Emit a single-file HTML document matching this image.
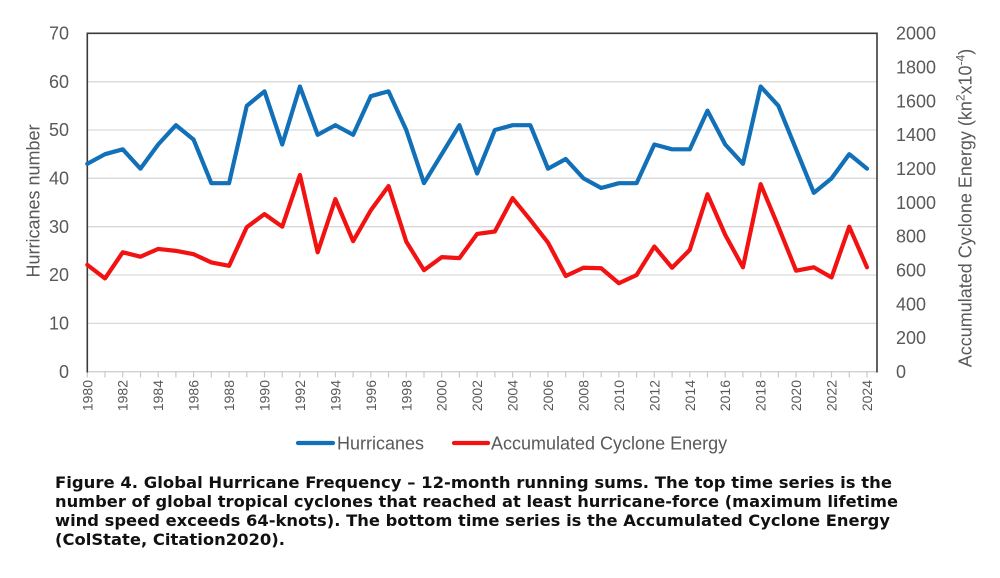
<!DOCTYPE html>
<html>
<head>
<meta charset="utf-8">
<style>
  html, body { margin:0; padding:0; background:#fff; }
  body { width:1000px; height:578px; overflow:hidden; }
  svg { display:block; }
  .tk { font-family:"Liberation Sans", sans-serif; font-size:18px; fill:#595959; }
  .xl { font-family:"Liberation Sans", sans-serif; font-size:14px; fill:#595959; }
  .cap { font-family:"DejaVu Sans", Verdana, sans-serif; font-weight:bold; font-size:16px; fill:#111; }
</style>
</head>
<body>
<svg width="1000" height="578" viewBox="0 0 1000 578" xmlns="http://www.w3.org/2000/svg">
  <rect width="1000" height="578" fill="#fff"/>

  <!-- gridlines -->
  <g stroke="#d9d9d9" stroke-width="1.3">
    <line x1="87.3" y1="323.4" x2="877" y2="323.4"/>
    <line x1="87.3" y1="275.0" x2="877" y2="275.0"/>
    <line x1="87.3" y1="226.7" x2="877" y2="226.7"/>
    <line x1="87.3" y1="178.3" x2="877" y2="178.3"/>
    <line x1="87.3" y1="130.0" x2="877" y2="130.0"/>
    <line x1="87.3" y1="81.7" x2="877" y2="81.7"/>
  </g>

  <!-- bottom axis + ticks -->
  <line x1="87.3" y1="371.7" x2="877" y2="371.7" stroke="#d0d0d0" stroke-width="1.3"/>
  <g stroke="#c8c8c8" stroke-width="1.2">
    <line x1="87.3" y1="371.7" x2="87.3" y2="377.5"/>
    <line x1="105.0" y1="371.7" x2="105.0" y2="377.5"/>
    <line x1="122.7" y1="371.7" x2="122.7" y2="377.5"/>
    <line x1="140.5" y1="371.7" x2="140.5" y2="377.5"/>
    <line x1="158.2" y1="371.7" x2="158.2" y2="377.5"/>
    <line x1="175.9" y1="371.7" x2="175.9" y2="377.5"/>
    <line x1="193.6" y1="371.7" x2="193.6" y2="377.5"/>
    <line x1="211.3" y1="371.7" x2="211.3" y2="377.5"/>
    <line x1="229.1" y1="371.7" x2="229.1" y2="377.5"/>
    <line x1="246.8" y1="371.7" x2="246.8" y2="377.5"/>
    <line x1="264.5" y1="371.7" x2="264.5" y2="377.5"/>
    <line x1="282.2" y1="371.7" x2="282.2" y2="377.5"/>
    <line x1="299.9" y1="371.7" x2="299.9" y2="377.5"/>
    <line x1="317.7" y1="371.7" x2="317.7" y2="377.5"/>
    <line x1="335.4" y1="371.7" x2="335.4" y2="377.5"/>
    <line x1="353.1" y1="371.7" x2="353.1" y2="377.5"/>
    <line x1="370.8" y1="371.7" x2="370.8" y2="377.5"/>
    <line x1="388.5" y1="371.7" x2="388.5" y2="377.5"/>
    <line x1="406.3" y1="371.7" x2="406.3" y2="377.5"/>
    <line x1="424.0" y1="371.7" x2="424.0" y2="377.5"/>
    <line x1="441.7" y1="371.7" x2="441.7" y2="377.5"/>
    <line x1="459.4" y1="371.7" x2="459.4" y2="377.5"/>
    <line x1="477.1" y1="371.7" x2="477.1" y2="377.5"/>
    <line x1="494.9" y1="371.7" x2="494.9" y2="377.5"/>
    <line x1="512.6" y1="371.7" x2="512.6" y2="377.5"/>
    <line x1="530.3" y1="371.7" x2="530.3" y2="377.5"/>
    <line x1="548.0" y1="371.7" x2="548.0" y2="377.5"/>
    <line x1="565.7" y1="371.7" x2="565.7" y2="377.5"/>
    <line x1="583.5" y1="371.7" x2="583.5" y2="377.5"/>
    <line x1="601.2" y1="371.7" x2="601.2" y2="377.5"/>
    <line x1="618.9" y1="371.7" x2="618.9" y2="377.5"/>
    <line x1="636.6" y1="371.7" x2="636.6" y2="377.5"/>
    <line x1="654.3" y1="371.7" x2="654.3" y2="377.5"/>
    <line x1="672.1" y1="371.7" x2="672.1" y2="377.5"/>
    <line x1="689.8" y1="371.7" x2="689.8" y2="377.5"/>
    <line x1="707.5" y1="371.7" x2="707.5" y2="377.5"/>
    <line x1="725.2" y1="371.7" x2="725.2" y2="377.5"/>
    <line x1="742.9" y1="371.7" x2="742.9" y2="377.5"/>
    <line x1="760.7" y1="371.7" x2="760.7" y2="377.5"/>
    <line x1="778.4" y1="371.7" x2="778.4" y2="377.5"/>
    <line x1="796.1" y1="371.7" x2="796.1" y2="377.5"/>
    <line x1="813.8" y1="371.7" x2="813.8" y2="377.5"/>
    <line x1="831.5" y1="371.7" x2="831.5" y2="377.5"/>
    <line x1="849.3" y1="371.7" x2="849.3" y2="377.5"/>
    <line x1="867.0" y1="371.7" x2="867.0" y2="377.5"/>
  </g>

  <!-- plot border (top, left, right) -->
  <path d="M87.3,372.5 L87.3,33.3 L877,33.3 L877,372.5" fill="none" stroke="#3a3a3a" stroke-width="1.6"/>

  <!-- series -->
  <g transform="translate(87.3,371.7) scale(17.72,-4.834)">
    <polyline fill="none" stroke="#1170b8" stroke-width="4.2" stroke-linejoin="round" stroke-linecap="round" vector-effect="non-scaling-stroke"
      points="0,43 1,45 2,46 3,42 4,47 5,51 6,48 7,39 8,39 9,55 10,58 11,47 12,59 13,49 14,51 15,49 16,57 17,58 18,50 19,39 20,45 21,51 22,41 23,50 24,51 25,51 26,42 27,44 28,40 29,38 30,39 31,39 32,47 33,46 34,46 35,54 36,47 37,43 38,59 39,55 40,46 41,37 42,40 43,45 44,42"/>
    <polyline fill="none" stroke="#f21212" stroke-width="4.2" stroke-linejoin="round" stroke-linecap="round" vector-effect="non-scaling-stroke"
      points="0,22.1 1,19.3 2,24.7 3,23.8 4,25.4 5,25.0 6,24.3 7,22.6 8,21.9 9,29.9 10,32.6 11,30.0 12,40.7 13,24.7 14,35.7 15,27.0 16,33.4 17,38.4 18,26.9 19,21.0 20,23.7 21,23.5 22,28.5 23,29.0 24,35.9 25,31.4 26,26.7 27,19.8 28,21.5 29,21.4 30,18.3 31,20.0 32,25.9 33,21.5 34,25.2 35,36.7 36,28.3 37,21.6 38,38.8 39,30.0 40,20.9 41,21.6 42,19.5 43,30.0 44,21.6"/>
  </g>

  <!-- left tick labels -->
  <g class="tk" text-anchor="end">
    <text x="69" y="378">0</text>
    <text x="69" y="329.6">10</text>
    <text x="69" y="281.2">20</text>
    <text x="69" y="232.9">30</text>
    <text x="69" y="184.5">40</text>
    <text x="69" y="136.2">50</text>
    <text x="69" y="87.9">60</text>
    <text x="69" y="39.5">70</text>
  </g>

  <!-- right tick labels -->
  <g class="tk" text-anchor="start">
    <text x="896" y="378">0</text>
    <text x="896" y="344.1">200</text>
    <text x="896" y="310.3">400</text>
    <text x="896" y="276.5">600</text>
    <text x="896" y="242.6">800</text>
    <text x="896" y="208.8">1000</text>
    <text x="896" y="175.0">1200</text>
    <text x="896" y="141.1">1400</text>
    <text x="896" y="107.3">1600</text>
    <text x="896" y="73.5">1800</text>
    <text x="896" y="39.6">2000</text>
  </g>

  <!-- x labels (rotated) -->
  <g class="xl" text-anchor="end">
    <text transform="translate(92.3,380) rotate(-90)">1980</text>
    <text transform="translate(127.7,380) rotate(-90)">1982</text>
    <text transform="translate(163.2,380) rotate(-90)">1984</text>
    <text transform="translate(198.6,380) rotate(-90)">1986</text>
    <text transform="translate(234.1,380) rotate(-90)">1988</text>
    <text transform="translate(269.5,380) rotate(-90)">1990</text>
    <text transform="translate(304.9,380) rotate(-90)">1992</text>
    <text transform="translate(340.4,380) rotate(-90)">1994</text>
    <text transform="translate(375.8,380) rotate(-90)">1996</text>
    <text transform="translate(411.3,380) rotate(-90)">1998</text>
    <text transform="translate(446.7,380) rotate(-90)">2000</text>
    <text transform="translate(482.1,380) rotate(-90)">2002</text>
    <text transform="translate(517.6,380) rotate(-90)">2004</text>
    <text transform="translate(553.0,380) rotate(-90)">2006</text>
    <text transform="translate(588.5,380) rotate(-90)">2008</text>
    <text transform="translate(623.9,380) rotate(-90)">2010</text>
    <text transform="translate(659.3,380) rotate(-90)">2012</text>
    <text transform="translate(694.8,380) rotate(-90)">2014</text>
    <text transform="translate(730.2,380) rotate(-90)">2016</text>
    <text transform="translate(765.7,380) rotate(-90)">2018</text>
    <text transform="translate(801.1,380) rotate(-90)">2020</text>
    <text transform="translate(836.5,380) rotate(-90)">2022</text>
    <text transform="translate(872.0,380) rotate(-90)">2024</text>
  </g>

  <!-- axis titles -->
  <text class="tk" text-anchor="middle" transform="translate(39.5,201) rotate(-90)">Hurricanes number</text>
  <text class="tk" text-anchor="middle" transform="translate(971.5,208) rotate(-90)" font-size="17.5">Accumulated Cyclone Energy (kn<tspan font-size="12" dy="-7">2</tspan><tspan dy="7">x10</tspan><tspan font-size="12" dy="-7">-4</tspan><tspan dy="7">)</tspan></text>

  <!-- legend -->
  <line x1="298" y1="443" x2="333" y2="443" stroke="#1170b8" stroke-width="4.2" stroke-linecap="round"/>
  <text class="tk" x="337" y="449.5">Hurricanes</text>
  <line x1="454" y1="443" x2="488" y2="443" stroke="#f21212" stroke-width="4.2" stroke-linecap="round"/>
  <text class="tk" x="491" y="449.5">Accumulated Cyclone Energy</text>

  <!-- caption -->
  <text class="cap" x="55" y="488" textLength="837" lengthAdjust="spacingAndGlyphs">Figure 4. Global Hurricane Frequency – 12-month running sums. The top time series is the</text>
  <text class="cap" x="55" y="507" textLength="843" lengthAdjust="spacingAndGlyphs">number of global tropical cyclones that reached at least hurricane-force (maximum lifetime</text>
  <text class="cap" x="55" y="526" textLength="835" lengthAdjust="spacingAndGlyphs">wind speed exceeds 64-knots). The bottom time series is the Accumulated Cyclone Energy</text>
  <text class="cap" x="55" y="545" textLength="230" lengthAdjust="spacingAndGlyphs">(ColState, Citation2020).</text>
</svg>
</body>
</html>
